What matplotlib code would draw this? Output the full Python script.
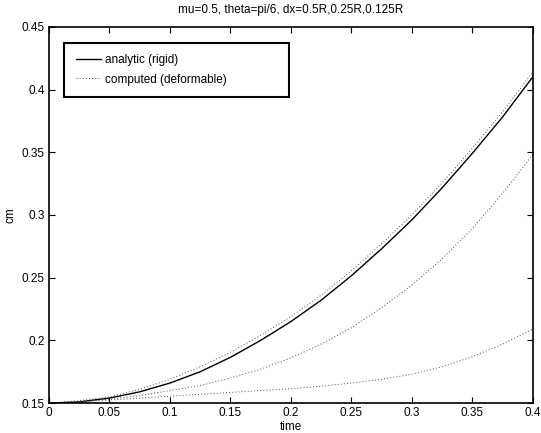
import matplotlib
matplotlib.use("Agg")
import matplotlib.pyplot as plt
from matplotlib.lines import Line2D

plt.rcParams["font.family"] = ["Liberation Sans", "DejaVu Sans"]
plt.rcParams["font.size"] = 8.5

# values
time = [0.0, 0.025, 0.05, 0.075, 0.1, 0.125, 0.15, 0.175, 0.2,
        0.225, 0.25, 0.275, 0.3, 0.325, 0.35, 0.375, 0.4]
analytic = [0.150, 0.151, 0.154, 0.159, 0.166, 0.175, 0.1865, 0.200, 0.215,
            0.232, 0.2515, 0.273, 0.296, 0.3215, 0.349, 0.378, 0.410]
dx_0125 = [0.150, 0.152, 0.155, 0.161, 0.169, 0.179, 0.1905, 0.204, 0.219,
           0.236, 0.2555, 0.277, 0.300, 0.3255, 0.353, 0.382, 0.414]
dx_025 = [0.150, 0.151, 0.153, 0.156, 0.160, 0.164, 0.170, 0.177, 0.186,
          0.197, 0.210, 0.226, 0.244, 0.265, 0.289, 0.317, 0.348]
dx_05 = [0.150, 0.151, 0.1525, 0.154, 0.1555, 0.157, 0.1585, 0.160, 0.1615,
         0.1635, 0.166, 0.169, 0.173, 0.179, 0.187, 0.197, 0.209]

xticks = [0, 0.05, 0.1, 0.15, 0.2, 0.25, 0.3, 0.35, 0.4]
xticklabels = ["0", "0.05", "0.1", "0.15", "0.2", "0.25", "0.3", "0.35", "0.4"]
yticks = [0.15, 0.2, 0.25, 0.3, 0.35, 0.4, 0.45]
yticklabels = ["0.15", "0.2", "0.25", "0.3", "0.35", "0.4", "0.45"]

fig = plt.figure(figsize=(5.41, 4.33), dpi=100)
ax = fig.add_axes([0.0906, 0.069, 0.894, 0.869])

dot = dict(color="0.3", linestyle=(0, (1, 2.2)), linewidth=0.7)
ax.plot(time, analytic, color="black", linewidth=1.0)
for series in (dx_05, dx_025, dx_0125):
    ax.plot(time, series, **dot)

ax.set_xlim(0, 0.4)
ax.set_ylim(0.15, 0.45)
ax.set_xticks(xticks)
ax.set_xticklabels(xticklabels)
ax.set_yticks(yticks)
ax.set_yticklabels(yticklabels)
ax.tick_params(direction="in", length=4, width=0.8, top=True, right=True, pad=3)
for s in ax.spines.values():
    s.set_linewidth(1.2)

ax.set_xlabel("time", labelpad=1)
ax.set_ylabel("cm", labelpad=4)
ax.set_title("mu=0.5, theta=pi/6, dx=0.5R,0.25R,0.125R", fontsize=8.5, pad=10)

handles = [Line2D([], [], color="black", linewidth=1.0),
           Line2D([], [], **dot)]
leg = ax.legend(handles, ["analytic (rigid)", "computed (deformable)"],
                loc="upper left", bbox_to_anchor=(0.031, 0.5, 0.465, 0.458),
                mode="expand", fancybox=False, framealpha=1, edgecolor="black",
                borderpad=1.0, labelspacing=0.6, handlelength=2.1,
                handletextpad=0.4, borderaxespad=0)
leg.get_frame().set_linewidth(1.5)

fig.savefig("out.png", dpi=100)
